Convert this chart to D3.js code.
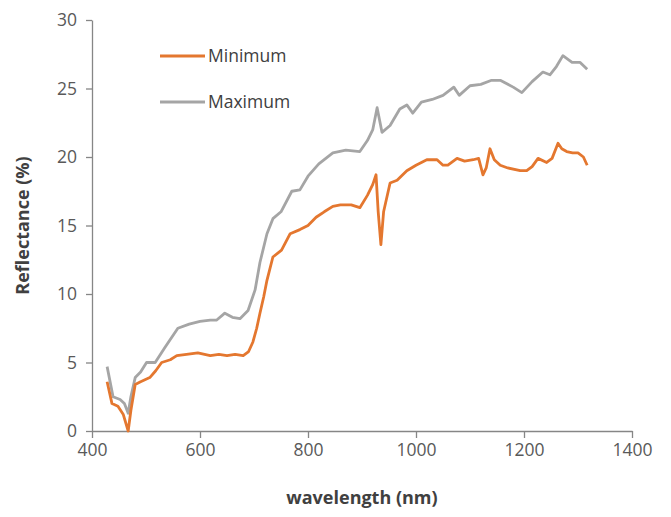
<!DOCTYPE html>
<html>
<head>
<meta charset="utf-8">
<script src="https://cdn.jsdelivr.net/npm/d3@7"></script>
<style>
  body { margin: 0; background: #fff; }
  text { font-family: "Open Sans", sans-serif; }
</style>
</head>
<body>
<div id="chart"></div>
<script>
// wavelength (nm) / reflectance (%)
var minWave = [428, 437, 448, 458, 467, 472, 480, 490, 507, 518, 529, 545, 557, 575, 596, 619, 635, 650, 665, 680, 690, 698, 705, 711, 718, 724, 735, 751, 767, 785, 800, 815, 830, 846, 860, 880, 896, 910, 920, 926, 930, 935, 940, 952, 965, 983, 1000, 1020, 1039, 1050, 1059, 1076, 1090, 1106, 1116, 1124, 1130, 1137, 1145, 1156, 1170, 1193, 1205, 1215, 1226, 1242, 1252, 1263, 1270, 1279, 1290, 1300, 1310, 1317];
var minVal  = [3.6, 2.0, 1.8, 1.2, 0, 1.5, 3.4, 3.6, 3.9, 4.4, 5.0, 5.2, 5.5, 5.6, 5.7, 5.5, 5.6, 5.5, 5.6, 5.5, 5.8, 6.5, 7.5, 8.6, 9.8, 11.0, 12.7, 13.2, 14.4, 14.7, 15.0, 15.6, 16.0, 16.4, 16.5, 16.5, 16.3, 17.2, 18.0, 18.7, 16.0, 13.6, 16.0, 18.1, 18.3, 19.0, 19.4, 19.8, 19.8, 19.4, 19.4, 19.9, 19.7, 19.8, 19.9, 18.7, 19.2, 20.6, 19.8, 19.4, 19.2, 19.0, 19.0, 19.3, 19.9, 19.6, 19.9, 21.0, 20.6, 20.4, 20.3, 20.3, 20.0, 19.4];
var maxWave = [428, 439, 452, 460, 467, 472, 480, 490, 501, 517, 535, 559, 580, 600, 619, 631, 646, 660, 674, 689, 702, 711, 724, 735, 750, 770, 785, 800, 820, 846, 870, 896, 910, 920, 928, 937, 952, 970, 983, 994, 1010, 1030, 1050, 1070, 1080, 1100, 1120, 1140, 1156, 1180, 1196, 1215, 1235, 1248, 1260, 1272, 1289, 1304, 1317];
var maxVal  = [4.7, 2.5, 2.3, 2.0, 1.3, 2.5, 3.9, 4.3, 5.0, 5.0, 6.1, 7.5, 7.8, 8.0, 8.1, 8.1, 8.6, 8.3, 8.2, 8.8, 10.3, 12.3, 14.4, 15.5, 16.0, 17.5, 17.6, 18.6, 19.5, 20.3, 20.5, 20.4, 21.2, 22.0, 23.6, 21.8, 22.3, 23.5, 23.8, 23.2, 24.0, 24.2, 24.5, 25.1, 24.5, 25.2, 25.3, 25.6, 25.6, 25.1, 24.7, 25.5, 26.2, 26.0, 26.6, 27.4, 26.9, 26.9, 26.4];
var seriesNames = ["Minimum", "Maximum"];
var seriesColors = ["#e4772f", "#a5a5a5"];
var xTicks = [400, 600, 800, 1000, 1200, 1400];
var yTicks = [0, 5, 10, 15, 20, 25, 30];

var W = 671, H = 517;
var margin = {top: 20, right: 39, bottom: 86, left: 92};

var svg = d3.select("#chart").append("svg")
    .attr("width", W)
    .attr("height", H);

var x = d3.scaleLinear().domain([400, 1400]).range([margin.left, W - margin.right]);
var y = d3.scaleLinear().domain([0, 30]).range([H - margin.bottom, margin.top]);

// axes
var xAxis = svg.append("g")
    .attr("transform", `translate(0,${y(0)})`)
    .call(d3.axisBottom(x).tickValues(xTicks).tickSize(7).tickSizeOuter(0).tickPadding(6).tickFormat(d3.format("d")));
var yAxis = svg.append("g")
    .attr("transform", `translate(${x(400)},0)`)
    .call(d3.axisLeft(y).tickValues(yTicks).tickSize(6).tickSizeOuter(0).tickPadding(9));

[xAxis, yAxis].forEach(function(a){
    a.select(".domain").attr("stroke", "#868686").attr("stroke-width", 1.3);
    a.selectAll(".tick line").attr("stroke", "#868686").attr("stroke-width", 1.3);
    a.selectAll(".tick text")
        .attr("fill", "#595959")
        .style("font-family", "Open Sans, sans-serif")
        .style("font-size", "17.5px");
});

// lines
var line = d3.line()
    .x(function(d) { return x(d[0]); })
    .y(function(d) { return y(d[1]); });

var data = [
    d3.zip(minWave, minVal),
    d3.zip(maxWave, maxVal)
];

// draw maximum first so minimum sits on top
[1, 0].forEach(function(i){
    svg.append("path")
        .datum(data[i])
        .attr("fill", "none")
        .attr("stroke", seriesColors[i])
        .attr("stroke-width", 2.8)
        .attr("stroke-linejoin", "round")
        .attr("d", line);
});

// legend
var legend = svg.selectAll(".legend")
    .data(seriesNames)
    .enter().append("g")
    .attr("transform", function(d, i){ return `translate(160,${56 + i * 46})`; });
legend.append("line")
    .attr("x1", 0).attr("x2", 45)
    .attr("stroke", function(d, i){ return seriesColors[i]; })
    .attr("stroke-width", 2.8);
legend.append("text")
    .attr("x", 48)
    .attr("dy", "0.35em")
    .attr("fill", "#404040")
    .style("font-size", "17.5px")
    .text(function(d){ return d; });

// axis titles
svg.append("text")
    .attr("text-anchor", "middle")
    .attr("x", 362)
    .attr("y", 504)
    .attr("fill", "#404040")
    .style("font-size", "18px")
    .style("font-weight", "bold")
    .text("wavelength (nm)");

svg.append("text")
    .attr("text-anchor", "middle")
    .attr("transform", `translate(29,${(margin.top + H - margin.bottom) / 2}) rotate(-90)`)
    .attr("fill", "#404040")
    .style("font-size", "18px")
    .style("font-weight", "bold")
    .text("Reflectance  (%)");
</script>
</body>
</html>
